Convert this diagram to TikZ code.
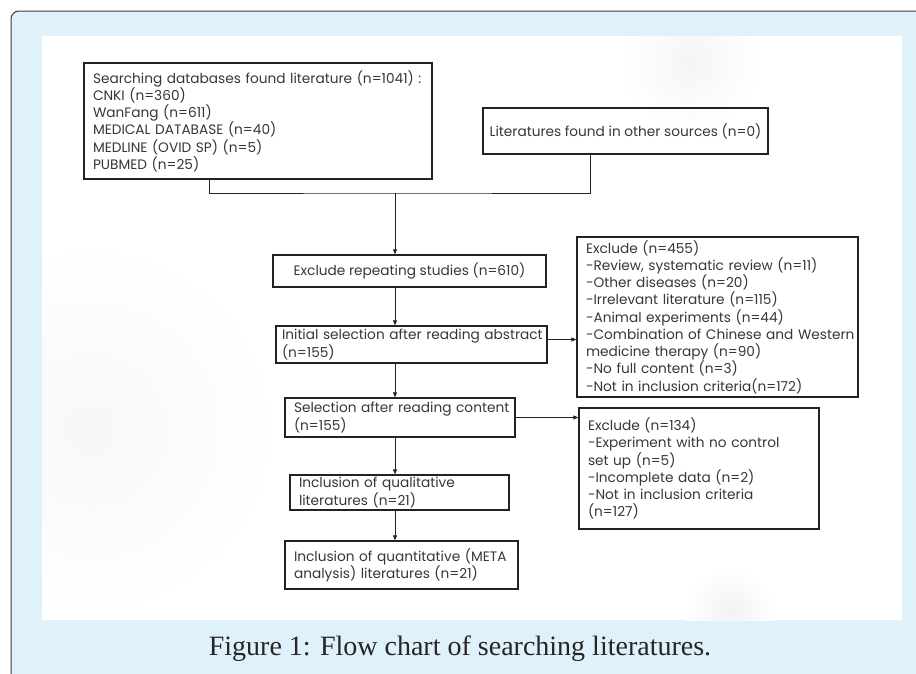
\documentclass[tikz,border=0pt]{standalone}
\usepackage{fontspec}
\setmainfont{Liberation Serif}
\newfontfamily\chartfont{Poppins}
\usetikzlibrary{arrows.meta,positioning,calc}
\definecolor{FRblue}{RGB}{223,241,251}
\definecolor{FRline}{RGB}{60,60,60}
\definecolor{BXtext}{RGB}{55,55,55}
\definecolor{BXline}{RGB}{34,34,34}

\begin{document}
\begin{tikzpicture}[x=1pt,y=-1pt,
    box/.style={draw=BXline,line width=1.3pt,text=BXtext,align=left,inner xsep=9pt,inner ysep=2pt,
      font=\chartfont\fontsize{13.7}{17.25}\selectfont},
    link/.style={draw=BXline,line width=0.8pt},
    arr/.style={link,-{Triangle[length=5pt,width=4pt]}}
  ]
  \useasboundingbox (0,0) rectangle (916,673);
  % page frame
  \fill[FRblue,draw=FRline,line width=1pt,rounded corners=8pt] (11,11) rectangle (940,700);
  \fill[white] (42,36) rectangle (902,620);
  \begin{scope}
    \clip (42,36) rectangle (902,620);
    \shade[inner color=black!4,outer color=white] (690,62) circle (70);
    \shade[inner color=black!5,outer color=white] (730,612) circle (45);
    \shade[inner color=black!3,outer color=white] (90,430) circle (190);
  \end{scope}

  \node[box,text width=330pt,minimum height=116pt] (search) at (258,121)
    {Searching databases found literature (n=1041) :\\CNKI (n=360)\\WanFang (n=611)\\MEDICAL DATABASE (n=40)\\MEDLINE (OVID SP) (n=5)\\PUBMED (n=25)};
  \node[box,minimum width=285pt,minimum height=46pt,align=center,inner xsep=4pt] (other) at (625.5,131)
    {Literatures found in other sources (n=0)};
  \node[box,minimum width=273pt,minimum height=32pt,align=center] (repeat) at (409.5,271)
    {Exclude repeating studies (n=610)};
  \node[box,text width=259pt,minimum height=37pt,inner xsep=6pt] (initial) at (411.5,344.5)
    {\mbox{Initial selection after reading abstract}\\(n=155)};
  \node[box,text width=212pt,minimum height=39pt] (content) at (400,417.5)
    {\mbox{Selection after reading content}\\(n=155)};
  \node[box,text width=201pt,minimum height=35pt] (qual) at (399.5,492.5)
    {Inclusion of qualitative\\literatures (n=21)};
  \node[box,text width=215pt,minimum height=48pt] (quant) at (401.5,565)
    {\mbox{Inclusion of quantitative (META}\\analysis) literatures (n=21)};
  \node[box,text width=263pt,minimum height=160pt] (excl455) at (717.5,317)
    {Exclude (n=455)\\-Review, systematic review (n=11)\\-Other diseases (n=20)\\-Irrelevant literature (n=115)\\-Animal experiments (n=44)\\\mbox{-Combination of Chinese and Western}\\medicine therapy (n=90)\\-No full content (n=3)\\-Not in inclusion criteria(n=172)};
  \node[box,text width=222pt,minimum height=121pt] (excl134) at (699,468.5)
    {Exclude (n=134)\\-Experiment with no control\\set up (n=5)\\-Incomplete data (n=2)\\-Not in inclusion criteria\\(n=127)};

  \node[font=\fontsize{28}{32}\selectfont,text=black!85] (caption) at (460,649)
    {Figure 1: Flow chart of searching literatures.};

  % connectors
  \coordinate (join) at (395,193);
  \draw[link] ($(search.south west)+(126,0)$) |- (join) -| ($(other.south west)+(108,0)$);
  \draw[arr] (join) -- (join |- repeat.north);
  \draw[arr] (repeat.south -| join) -- (initial.north -| join);
  \draw[arr] (initial.south -| join) -- (content.north -| join);
  \draw[arr] (content.south -| join) -- (qual.north -| join);
  \draw[arr] (qual.south -| join) -- (quant.north -| join);
  \draw[arr] ([yshift=5pt]initial.east) -- ([yshift=5pt]initial.east -| excl455.west);
  \draw[arr] (content.east) -- (content.east -| excl134.west);
\end{tikzpicture}
\end{document}
